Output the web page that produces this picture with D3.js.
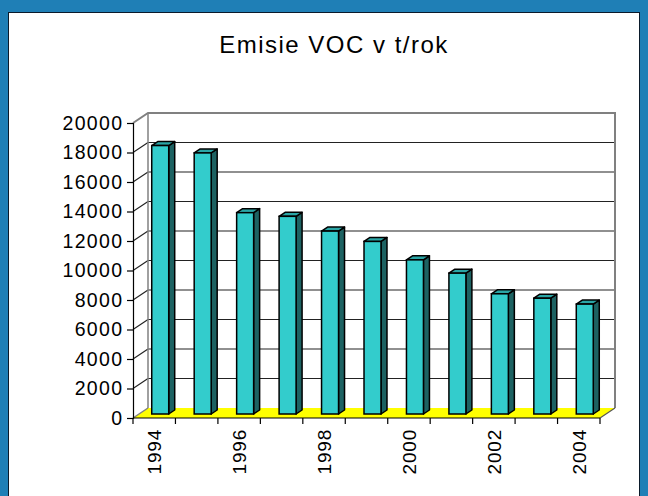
<!DOCTYPE html>
<html>
<head>
<meta charset="utf-8">
<script src="https://cdn.jsdelivr.net/npm/d3@7"></script>
<style>
html, body { margin: 0; padding: 0; background: #1f7fb6; }
svg { display: block; }
text { font-family: "Liberation Sans", Arial, sans-serif; }
</style>
</head>
<body>
<div id="canvas"></div>
<script>
// ----------------------------------------------------------
// DATA -----------------------------------------------------
// ----------------------------------------------------------
var years = [1994, 1995, 1996, 1997, 1998, 1999, 2000, 2001, 2002, 2003, 2004];
var emissions = [18200, 17700, 13650, 13400, 12400, 11700, 10450, 9550, 8150, 7850, 7450];
var y_ticks = [0, 2000, 4000, 6000, 8000, 10000, 12000, 14000, 16000, 18000, 20000];
var x_labels = [1994, 1996, 1998, 2000, 2002, 2004];
var title_text = "Emisie VOC v t/rok";

// ----------------------------------------------------------
// LAYOUT ---------------------------------------------------
// ----------------------------------------------------------
var W = 648, H = 496;
var plot_left = 133, plot_right = 600, plot_bottom = 418, plot_top = 123;
// depth of the 3d box (back wall offset)
var depth_dx = 15, depth_dy = -10;
// bar front face offset and bar depth
var bar_dx = 6, bar_dy = -4, bar_depth_dx = 6, bar_depth_dy = -4;

var color_bg = "#1f7fb6";
var color_bar = "#33cccc";
var color_bar_side = "#1d6262";
var color_bar_top = "#2aa5a5";
var color_floor = "#ffff00";
var color_wall = "#808080";

var svg = d3.select("#canvas").append("svg")
  .attr("width", W)
  .attr("height", H);

svg.append("rect")
  .attr("width", W).attr("height", H)
  .style("fill", color_bg);

// white panel
svg.append("rect")
  .attr("x", 8.5).attr("y", 12.5)
  .attr("width", 631).attr("height", 490)
  .style("fill", "#ffffff")
  .style("stroke", "#0a1a2a")
  .style("stroke-width", 1);

// ----------------------------------------------------------
// SCALES ---------------------------------------------------
// ----------------------------------------------------------
var yScale = d3.scaleLinear()
  .domain([0, 20000])
  .range([plot_bottom, plot_top]);

var xOuter = d3.scaleBand()
  .domain(years)
  .range([plot_left, plot_right])
  .padding(0);

var xBar = d3.scaleBand()
  .domain(years)
  .range([plot_left, plot_right])
  .paddingInner(0.6)
  .paddingOuter(0.3);

// ----------------------------------------------------------
// WALLS ----------------------------------------------------
// ----------------------------------------------------------
var walls = svg.append("g").attr("class", "walls");

// floor
walls.append("polygon")
  .attr("points", [
    [plot_left, plot_bottom],
    [plot_right, plot_bottom],
    [plot_right + depth_dx, plot_bottom + depth_dy],
    [plot_left + depth_dx, plot_bottom + depth_dy]
  ].map(function(p) { return p.join(","); }).join(" "))
  .style("fill", color_floor)
  .style("stroke", "none");

// gridlines on back wall and side wall
var grid_vals = y_ticks.filter(function(v) { return v > 0 && v < 20000; });
walls.selectAll(".grid_back")
  .data(grid_vals)
  .enter().append("line")
  .attr("x1", plot_left + depth_dx)
  .attr("x2", plot_right + depth_dx)
  .attr("y1", function(d) { return yScale(d) + depth_dy; })
  .attr("y2", function(d) { return yScale(d) + depth_dy; })
  .style("stroke", "#222")
  .style("stroke-width", 1.2);
walls.selectAll(".grid_side")
  .data(grid_vals)
  .enter().append("line")
  .attr("x1", plot_left)
  .attr("x2", plot_left + depth_dx)
  .attr("y1", function(d) { return yScale(d); })
  .attr("y2", function(d) { return yScale(d) + depth_dy; })
  .style("stroke", "#222")
  .style("stroke-width", 1.2);

// wall borders
var bx = plot_left + depth_dx, by_top = yScale(20000) + depth_dy, by_bot = yScale(0) + depth_dy;
walls.append("path")
  .attr("d", "M" + plot_left + "," + yScale(20000) +
    "L" + bx + "," + by_top +
    "L" + (plot_right + depth_dx) + "," + by_top +
    "L" + (plot_right + depth_dx) + "," + by_bot)
  .style("fill", "none")
  .style("stroke", color_wall)
  .style("stroke-width", 2);
walls.append("line")
  .attr("x1", bx).attr("x2", bx)
  .attr("y1", by_top).attr("y2", by_bot)
  .style("stroke", color_wall)
  .style("stroke-width", 1.5);
walls.append("line")
  .attr("x1", plot_left).attr("y1", plot_bottom)
  .attr("x2", bx).attr("y2", by_bot)
  .style("stroke", color_wall)
  .style("stroke-width", 1.5);
walls.append("line")
  .attr("x1", plot_right).attr("y1", plot_bottom)
  .attr("x2", plot_right + depth_dx).attr("y2", by_bot)
  .style("stroke", "#555")
  .style("stroke-width", 1.2);

// ----------------------------------------------------------
// BARS -----------------------------------------------------
// ----------------------------------------------------------
var bar_data = years.map(function(y, i) { return { year: y, value: emissions[i] }; });
var bw = xBar.bandwidth();
var bars = svg.append("g").attr("class", "bars");

function pts(arr) { return arr.map(function(p) { return p.join(","); }).join(" "); }

var bar_g = bars.selectAll(".bar")
  .data(bar_data)
  .enter().append("g")
  .attr("class", "bar");

bar_g.append("polygon")
  .attr("points", function(d) {
    var x0 = xBar(d.year) + bar_dx + bw, top = yScale(d.value) + bar_dy, bot = yScale(0) + bar_dy;
    return pts([[x0, top], [x0 + bar_depth_dx, top + bar_depth_dy], [x0 + bar_depth_dx, bot + bar_depth_dy], [x0, bot]]);
  })
  .style("fill", color_bar_side)
  .style("stroke", "#000")
  .style("stroke-width", 1.5)
  .style("stroke-linejoin", "round");

bar_g.append("polygon")
  .attr("points", function(d) {
    var x0 = xBar(d.year) + bar_dx, top = yScale(d.value) + bar_dy;
    return pts([[x0, top], [x0 + bar_depth_dx, top + bar_depth_dy], [x0 + bw + bar_depth_dx, top + bar_depth_dy], [x0 + bw, top]]);
  })
  .style("fill", color_bar_top)
  .style("stroke", "#000")
  .style("stroke-width", 1.5)
  .style("stroke-linejoin", "round");

bar_g.append("rect")
  .attr("x", function(d) { return xBar(d.year) + bar_dx; })
  .attr("y", function(d) { return yScale(d.value) + bar_dy; })
  .attr("width", bw)
  .attr("height", function(d) { return yScale(0) - yScale(d.value); })
  .style("fill", color_bar)
  .style("stroke", "#000")
  .style("stroke-width", 1.5);

// ----------------------------------------------------------
// AXES -----------------------------------------------------
// ----------------------------------------------------------
var yAxis = svg.append("g")
  .attr("transform", "translate(" + plot_left + ",0)")
  .call(d3.axisLeft(yScale).tickValues(y_ticks).tickSize(6).tickPadding(5).tickFormat(d3.format("d")));
yAxis.select(".domain").attr("stroke", "#000").attr("stroke-width", 1.2);
yAxis.selectAll(".tick line").attr("stroke", "#000").attr("stroke-width", 1.2);
yAxis.selectAll(".tick text")
  .style("font-size", "19.5px")
  .style("letter-spacing", "1.3px")
  .attr("dx", 1.3)
  .attr("fill", "#000");

// x axis line and boundary ticks
var xAxis = svg.append("g").attr("class", "xaxis");
xAxis.append("line")
  .attr("x1", plot_left).attr("x2", plot_right)
  .attr("y1", plot_bottom).attr("y2", plot_bottom)
  .style("stroke", "#000").style("stroke-width", 1.2);
var bounds = years.map(function(y) { return xOuter(y); }).concat([plot_right]);
xAxis.selectAll(".xtick")
  .data(bounds)
  .enter().append("line")
  .attr("x1", function(d) { return d; }).attr("x2", function(d) { return d; })
  .attr("y1", plot_bottom).attr("y2", plot_bottom + 6)
  .style("stroke", "#000").style("stroke-width", 1.2);
xAxis.selectAll(".xlabel")
  .data(x_labels)
  .enter().append("text")
  .attr("transform", function(d) {
    return "translate(" + (xOuter(d) + xOuter.bandwidth() / 2 + 7) + "," + (plot_bottom + 11) + ") rotate(-90)";
  })
  .attr("text-anchor", "end")
  .style("font-size", "19px")
  .style("letter-spacing", "0.8px")
  .text(function(d) { return d; });

// ----------------------------------------------------------
// TEXT -----------------------------------------------------
// ----------------------------------------------------------
svg.append("text")
  .attr("x", 334)
  .attr("y", 53)
  .attr("text-anchor", "middle")
  .style("font-size", "24px")
  .style("letter-spacing", "1.5px")
  .text(title_text);
</script>
</body>
</html>
